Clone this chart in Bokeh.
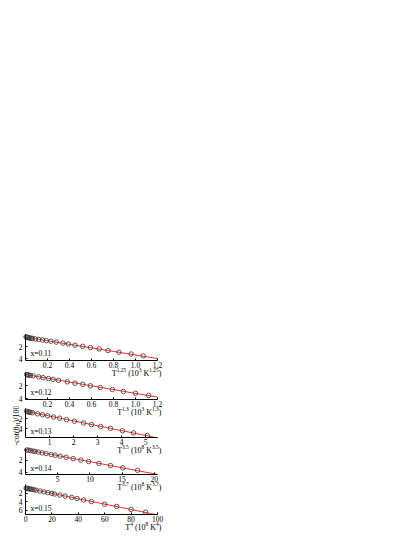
import math
from bokeh.plotting import figure
from bokeh.models import Range1d, FixedTicker, Label, PrintfTickFormatter
from bokeh.layouts import column
from bokeh.embed import file_html
from bokeh.resources import INLINE

# ---------------- data ----------------
panel_names = ["x=0.11", "x=0.12", "x=0.13", "x=0.14", "x=0.15"]

x_max = [1.2, 1.2, 5.5, 20.5, 100]
y_max = [4.33, 4.1, 5.8, 4.4, 7.0]

x_ticks = [[0.2, 0.4, 0.6, 0.8, 1.0, 1.2],
           [0.2, 0.4, 0.6, 0.8, 1.0, 1.2],
           [1, 2, 3, 4, 5],
           [5, 10, 15, 20],
           [0, 20, 40, 60, 80, 100]]
x_tick_fmt = ["%.1f", "%.1f", "%d", "%d", "%d"]
y_ticks = [[2, 4], [2, 4], [2, 4], [2, 4], [2, 4, 6]]

x_011 = [0.005, 0.012, 0.02, 0.03, 0.04, 0.052, 0.064, 0.09, 0.12, 0.155, 0.19, 0.23,
         0.28, 0.34, 0.39, 0.45, 0.52, 0.59, 0.67, 0.75, 0.85, 0.96, 1.07]
y_011 = [0.40, 0.46, 0.50, 0.55, 0.58, 0.62, 0.66, 0.74, 0.83, 0.92, 1.02, 1.12,
         1.26, 1.44, 1.58, 1.78, 1.96, 2.18, 2.40, 2.68, 2.94, 3.25, 3.55]

x_012 = [0.01, 0.02, 0.03, 0.045, 0.07, 0.12, 0.16, 0.21, 0.25, 0.30, 0.38, 0.45,
         0.52, 0.59, 0.68, 0.79, 0.89, 1.0, 1.12]
y_012 = [0.30, 0.36, 0.40, 0.45, 0.52, 0.66, 0.78, 0.92, 1.04, 1.18, 1.42, 1.62,
         1.80, 2.02, 2.28, 2.58, 2.88, 3.15, 3.48]

x_013 = [0.05, 0.1, 0.15, 0.2, 0.29, 0.5, 0.71, 0.92, 1.17, 1.42, 1.71, 2.04,
         2.42, 2.75, 3.13, 3.54, 4.04, 4.5, 5.08]
y_013 = [0.55, 0.66, 0.70, 0.76, 0.85, 1.06, 1.25, 1.45, 1.70, 1.93, 2.22, 2.54,
         2.90, 3.22, 3.60, 3.98, 4.45, 4.88, 5.40]

x_014 = [0.2, 0.5, 0.8, 1.2, 1.5, 2.0, 2.6, 3.2, 4.0, 4.6, 5.4, 6.3, 7.4, 8.6,
         9.8, 11.4, 13.2, 15.1, 17.4]
y_014 = [0.25, 0.30, 0.36, 0.44, 0.50, 0.60, 0.73, 0.86, 1.02, 1.14, 1.30, 1.48,
         1.72, 1.96, 2.20, 2.52, 2.88, 3.26, 3.70]

x_015 = [0.5, 1, 2, 3, 4, 5, 6.5, 8, 11, 14, 17, 20, 22, 26, 30, 35, 39, 44, 50,
         60, 69, 80, 91]
y_015 = [0.85, 0.90, 0.95, 1.02, 1.08, 1.14, 1.24, 1.34, 1.52, 1.72, 1.90, 2.08,
         2.22, 2.46, 2.70, 3.02, 3.28, 3.60, 3.98, 4.60, 5.12, 5.80, 6.45]

xs = [x_011, x_012, x_013, x_014, x_015]
ys = [y_011, y_012, y_013, y_014, y_015]

fit_intercept = [0.45, 0.30, 0.54, 0.17, 0.80]
fit_slope = [2.96, 2.87, 0.97, 0.206, 0.063]

x_labels = [
    [("T", "n"), ("1.25", "sup"), (" (10", "n"), ("3", "sup"), (" K", "n"), ("1.25", "sup"), (")", "n")],
    [("T", "n"), ("1.3", "sup"), (" (10", "n"), ("3", "sup"), (" K", "n"), ("1.3", "sup"), (")", "n")],
    [("T", "n"), ("3.5", "sup"), (" (10", "n"), ("8", "sup"), (" K", "n"), ("3.5", "sup"), (")", "n")],
    [("T", "n"), ("3.7", "sup"), (" (10", "n"), ("8", "sup"), (" K", "n"), ("3.7", "sup"), (")", "n")],
    [("T", "n"), ("4", "sup"), (" (10", "n"), ("8", "sup"), (" K", "n"), ("4", "sup"), (")", "n")],
]
y_label = [("-cot(\u03b8", "n"), ("H", "sub"), (")/100", "n")]

# ---------------- layout ----------------
FONT = "Liberation Serif"
frame_top = [334, 372, 408, 448, 484]
frame_bot = [360, 399, 437, 474, 514]
name_px = [19, 20, 22.5, 19.5, 24]
LEFT, FRAME_W, RIGHT = 25, 132, 12
BOTTOM = 20

CW = {'.': 0.25, ' ': 0.25, '(': 0.333, ')': 0.333, 'T': 0.611, 'K': 0.722,
      '-': 0.333, 'c': 0.444, 'o': 0.5, 't': 0.278, '\u03b8': 0.5, 'H': 0.722,
      '/': 0.278, 'x': 0.5, '=': 0.564}


def tw(s, fs):
    return sum(CW.get(ch, 0.5) for ch in s) * fs


def seg_label(p, x, y, segs, fs, sx, sy, align="left", vertical=False, dx=0.0, dy=0.0):
    """Label made of normal/superscript/subscript pieces; (x, y) is a data anchor,
    dx/dy pixel shifts (dy downward) converted with pixels-per-unit sx, sy."""
    sizes = [fs if k == "n" else fs * 0.68 for _, k in segs]
    widths = [tw(t, s) for (t, _), s in zip(segs, sizes)]
    total = sum(widths)
    pos = 0.0
    if align == "right":
        pos = -total
    elif align == "center":
        pos = -total / 2
    for (t, k), s, w in zip(segs, sizes, widths):
        stripped = t.lstrip(" ")
        lead = tw(t[:len(t) - len(stripped)], s)   # leading blanks would collapse in SVG
        rise = 0.42 * fs if k == "sup" else (-0.22 * fs if k == "sub" else 0.0)
        if not vertical:
            px, py = dx + pos + lead, dy - rise
        else:
            px, py = dx - rise, dy - pos - lead
        p.add_layout(Label(x=x + px / sx, y=y + py / sy, text=stripped,
                           angle=(math.pi / 2 if vertical else 0),
                           text_font=FONT, text_font_size=f"{s:.1f}px",
                           text_align="left", text_baseline="alphabetic",
                           text_color="black"))
        pos += w


figs = []
prev_end = 0
for i in range(5):
    fh = frame_bot[i] - frame_top[i]
    top_b = frame_top[i] if i == 0 else 2
    start = frame_top[i] - top_b
    height = top_b + fh + BOTTOM
    margin_top = start - prev_end
    prev_end = start + height

    sx = FRAME_W / x_max[i]
    sy = fh / y_max[i]
    xr = Range1d(-LEFT / sx, x_max[i] + RIGHT / sx)
    yr = Range1d(y_max[i] + BOTTOM / sy, -top_b / sy)   # inverted: 0 at the top

    p = figure(width=LEFT + FRAME_W + RIGHT, height=height,
               x_range=xr, y_range=yr,
               output_backend="svg", toolbar_location=None,
               min_border_left=0, min_border_right=0,
               min_border_top=0, min_border_bottom=0,
               background_fill_alpha=0, border_fill_alpha=0,
               outline_line_color=None, margin=(margin_top, 0, 0, 0))
    p.grid.visible = False
    for ax, ticks in ((p.xaxis[0], x_ticks[i]), (p.yaxis[0], y_ticks[i])):
        ax.ticker = FixedTicker(ticks=ticks, minor_ticks=[])
        ax.axis_line_color = "black"
        ax.axis_line_width = 1
        ax.major_tick_line_color = "black"
        ax.major_tick_out = 0
        ax.major_tick_in = 2
        ax.minor_tick_out = 0
        ax.minor_tick_in = 0
        ax.major_label_text_font = FONT
        ax.major_label_text_font_size = "7.5px"
        ax.major_label_text_color = "black"
    p.xaxis[0].major_label_standoff = 1
    p.yaxis[0].major_label_standoff = 3
    p.xaxis[0].formatter = PrintfTickFormatter(format=x_tick_fmt[i])
    p.yaxis[0].formatter = PrintfTickFormatter(format="%d")
    p.xaxis[0].fixed_location = y_max[i]
    p.xaxis[0].bounds = (0, x_max[i])
    p.yaxis[0].fixed_location = 0
    p.yaxis[0].bounds = (0, y_max[i])

    lx = [0, x_max[i]]
    ly = [fit_intercept[i] + fit_slope[i] * v for v in lx]
    p.line(lx, ly, line_color="#ff2a2a", line_width=1)
    p.scatter(xs[i], ys[i], marker="circle", size=4.5, fill_color=None,
              line_color="#333333", line_width=0.8)

    seg_label(p, 0, 0, [(panel_names[i], "n")], 7.5, sx, sy, dx=5, dy=name_px[i])
    seg_label(p, x_max[i], y_max[i], x_labels[i], 8, sx, sy, align="right", dx=4, dy=12.5)
    if i == 2:
        seg_label(p, 0, 0, y_label, 8, sx, sy, align="center", vertical=True,
                  dx=-9.5, dy=17)
    figs.append(p)

layout = column(*figs, spacing=0)
open("out.html", "w").write(file_html(layout, INLINE))
